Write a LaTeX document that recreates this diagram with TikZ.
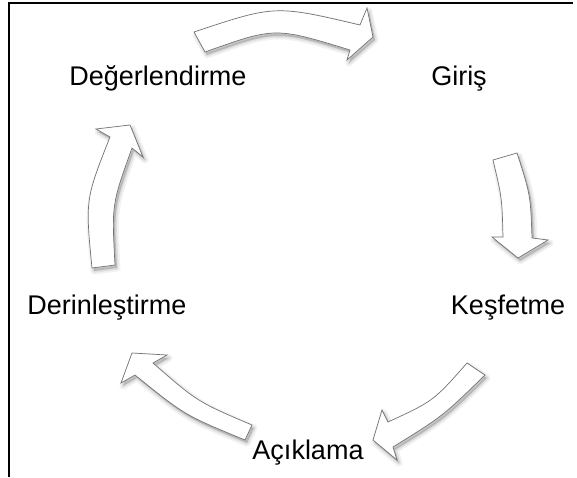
\documentclass[tikz,border=0pt]{standalone}
\usepackage{fontspec}
\setmainfont{Liberation Sans}
\newcommand\shadowedarrow[1]{%
  \draw[shadowwide] #1;
  \draw[shadowmid] #1;
  \fill[shadowcore] #1;
  \draw[blockarrow] #1;}
\begin{document}
\begin{tikzpicture}[x=1pt,y=-1pt,
  blockarrow/.style={draw=black!55, fill=white, line width=0.7pt, line join=miter},
  shadowcore/.style={black, opacity=0.18, shift={(2,3)}},
  shadowmid/.style={black, opacity=0.07, line width=3.5pt, line join=round, shift={(2,3)}},
  shadowwide/.style={black, opacity=0.05, line width=7pt, line join=round, shift={(2,3)}},
  lbl/.style={anchor=base, inner sep=0pt, font=\fontsize{27}{32}\selectfont, text=black}]
\useasboundingbox (0,0) rectangle (577,477);
\fill[white] (0,0) rectangle (577,477);
% frame
\draw[line width=1.3pt] (9,477) -- (9,3) -- (573,3);
% arrows
\shadowedarrow{(194,32) .. controls (275,5) .. (360,25) -- (367,8) -- (373,37) -- (347,60) -- (350,50) .. controls (275,27) .. (205,52) -- cycle}
\shadowedarrow{(493,160) -- (517,153) .. controls (530.5,195) .. (532,238) -- (548,240) -- (518,258) -- (492,237) -- (503,237) .. controls (502,198) .. (493,160) -- cycle}
\shadowedarrow{(467,363) -- (485,375) .. controls (443,416) .. (393,447) -- (397,460) -- (373,440) -- (382,410) -- (388,422) .. controls (433.5,401) .. (467,363) -- cycle}
\shadowedarrow{(252,425) .. controls (197.3,401.7) .. (153,363) -- (167,355) -- (132,353) -- (121,383) -- (135,375) .. controls (184.7,415.2) .. (245,440) -- cycle}
\shadowedarrow{(92,268) -- (115,265) .. controls (111.7,204.4) .. (132,148) -- (143,157) -- (130,125) -- (96,129) -- (110,137) .. controls (85.3,199.6) .. (92,268) -- cycle}
% labels
\node[lbl] (deg) at (158,85) {Değerlendirme};
\node[lbl] (gir) at (459,85) {Giriş};
\node[lbl] (kes) at (508,314) {Keşfetme};
\node[lbl] (der) at (107,314) {Derinleştirme};
\node[lbl] (aci) at (308,459) {Açıklama};
\end{tikzpicture}
\end{document}
